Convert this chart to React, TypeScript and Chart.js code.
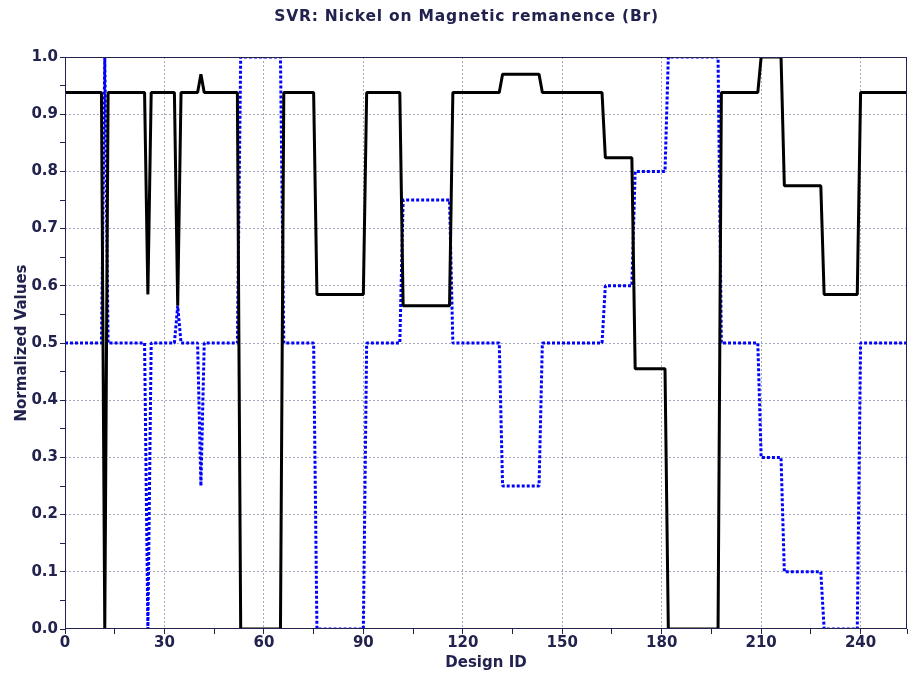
import React, { useEffect, useRef } from 'react';
import { Chart, registerables } from 'chart.js';

Chart.register(...registerables);

const TITLE = 'SVR: Nickel on Magnetic remanence (Br)';
const X_TITLE = 'Design ID';
const Y_TITLE = 'Normalized Values';

// Black solid series: vertices (Design ID, value)
const blackIds = [0, 11, 12, 13, 24, 25, 26, 33, 34, 35, 40, 41, 42, 52, 53, 65, 66, 75, 76, 90, 91, 101, 102, 116, 117, 131, 132, 143, 144, 162, 163, 171, 172, 181, 182, 197, 198, 209, 210, 216, 217, 228, 229, 239, 240, 254];
const blackValues = [0.938, 0.938, 0, 0.938, 0.938, 0.585, 0.938, 0.938, 0.565, 0.938, 0.938, 0.97, 0.938, 0.938, 0, 0, 0.938, 0.938, 0.585, 0.585, 0.938, 0.938, 0.565, 0.565, 0.938, 0.938, 0.97, 0.97, 0.938, 0.938, 0.824, 0.824, 0.455, 0.455, 0, 0, 0.938, 0.938, 1.0, 1.0, 0.775, 0.775, 0.585, 0.585, 0.938, 0.938];

// Blue dotted series: vertices (Design ID, value)
const blueIds = [0, 11, 12, 13, 24, 25, 26, 33, 34, 35, 40, 41, 42, 52, 53, 65, 66, 75, 76, 90, 91, 101, 102, 116, 117, 131, 132, 143, 144, 162, 163, 171, 172, 181, 182, 197, 198, 209, 210, 216, 217, 228, 229, 239, 240, 254];
const blueValues = [0.5, 0.5, 1.0, 0.5, 0.5, 0, 0.5, 0.5, 0.565, 0.5, 0.5, 0.25, 0.5, 0.5, 1.0, 1.0, 0.5, 0.5, 0, 0, 0.5, 0.5, 0.75, 0.75, 0.5, 0.5, 0.25, 0.25, 0.5, 0.5, 0.6, 0.6, 0.8, 0.8, 1.0, 1.0, 0.5, 0.5, 0.3, 0.3, 0.1, 0.1, 0, 0, 0.5, 0.5];

const X_MIN = 0;
const X_MAX = 254;
const X_MINOR_STEP = 15;
const X_MAJOR_STEP = 30;
const Y_MIN = 0;
const Y_MAX = 1;
const Y_MINOR_STEP = 0.05;

const NAVY = '#22224f';
const GRID = 'rgba(120,120,150,0.65)';

const frameBox = {
  id: 'frameBox',
  afterDraw(chart: any) {
    const { ctx, chartArea } = chart;
    ctx.save();
    ctx.strokeStyle = NAVY;
    ctx.lineWidth = 1;
    ctx.strokeRect(
      Math.round(chartArea.left) + 0.5,
      Math.round(chartArea.top) + 0.5,
      Math.round(chartArea.right - chartArea.left) - 1,
      Math.round(chartArea.bottom - chartArea.top) - 1
    );
    ctx.restore();
  },
};

// Title drawn with a little letter spacing to match the original's wide lettering
const spacedTitle = {
  id: 'spacedTitle',
  afterDraw(chart: any) {
    const { ctx, width } = chart;
    ctx.save();
    ctx.font = 'bold 15.5px "DejaVu Sans"';
    ctx.fillStyle = NAVY;
    ctx.textBaseline = 'middle';
    ctx.textAlign = 'left';
    try { (ctx as any).letterSpacing = '0.8px'; } catch (e) { /* ignore */ }
    const w = ctx.measureText(TITLE).width;
    const cx = width / 2 + 9;
    ctx.fillText(TITLE, cx - w / 2, 16.5);
    ctx.restore();
  },
};

export default function App() {
  const ref = useRef<HTMLCanvasElement | null>(null);

  useEffect(() => {
    if (!ref.current) return;
    const toPts = (xs: number[], ys: number[]) => xs.map((x, i) => ({ x, y: ys[i] }));
    const chart = new Chart(ref.current, {
      type: 'line',
      data: {
        datasets: [
          {
            label: 'Nickel',
            data: toPts(blackIds, blackValues),
            borderColor: '#000000',
            borderWidth: 3,
            pointRadius: 0,
            tension: 0,
            borderJoinStyle: 'bevel',
            fill: false,
          },
          {
            label: 'Magnetic remanence (Br)',
            data: toPts(blueIds, blueValues),
            borderColor: '#0000ff',
            borderWidth: 3,
            borderDash: [3, 2],
            pointRadius: 0,
            tension: 0,
            borderJoinStyle: 'bevel',
            fill: false,
          },
        ],
      },
      options: {
        animation: false,
        responsive: false,
        maintainAspectRatio: false,
        layout: { padding: { left: 0, right: 8, top: 57, bottom: 0 } },
        plugins: {
          legend: { display: false },
          tooltip: { enabled: false },
          title: { display: false },
        },
        scales: {
          x: {
            type: 'linear',
            min: X_MIN,
            max: X_MAX,
            afterFit: (s: any) => { s.height = 48; },
            ticks: {
              stepSize: X_MINOR_STEP,
              autoSkip: false,
              maxRotation: 0,
              padding: 0,
              color: NAVY,
              font: { family: 'DejaVu Sans', size: 15, weight: 'bold' },
              callback: (v: any) => (Math.round(Number(v)) % X_MAJOR_STEP === 0 ? String(Math.round(Number(v))) : ''),
            },
            grid: {
              color: (c: any) => (c.tick && Math.round(c.tick.value) % X_MAJOR_STEP === 0 && c.tick.value > X_MIN ? GRID : 'rgba(0,0,0,0)'),
              tickColor: NAVY,
              tickLength: 5,
              lineWidth: 1,
            },
            border: { display: false, dash: [2, 2] },
            title: {
              display: true,
              text: X_TITLE,
              color: NAVY,
              font: { family: 'DejaVu Sans', size: 15, weight: 'bold', lineHeight: 1.2 },
              padding: { top: 0, bottom: 5 },
            },
          },
          y: {
            type: 'linear',
            min: Y_MIN,
            max: Y_MAX,
            afterFit: (s: any) => { s.width = 65; },
            ticks: {
              stepSize: Y_MINOR_STEP,
              autoSkip: false,
              padding: 2,
              color: NAVY,
              font: { family: 'DejaVu Sans', size: 15, weight: 'bold' },
              callback: (v: any) => (Math.round(Number(v) * 100) % 10 === 0 ? Number(v).toFixed(1) : ''),
            },
            grid: {
              color: (c: any) => (c.tick && Math.round(c.tick.value * 100) % 10 === 0 && c.tick.value > Y_MIN && c.tick.value < Y_MAX ? GRID : 'rgba(0,0,0,0)'),
              tickColor: NAVY,
              tickLength: 5,
              lineWidth: 1,
            },
            border: { display: false, dash: [2, 2] },
            title: {
              display: true,
              text: Y_TITLE,
              color: NAVY,
              font: { family: 'DejaVu Sans', size: 15, weight: 'bold', lineHeight: 1.2 },
              padding: { top: 13, bottom: 0 },
            },
          },
        },
      },
      plugins: [frameBox, spacedTitle],
    } as any);
    return () => chart.destroy();
  }, []);

  return (
    <div style={{ position: 'fixed', left: 0, top: 0, width: 915, height: 677, background: '#ffffff' }}>
      <canvas ref={ref} width={915} height={677} style={{ display: 'block', width: 915, height: 677 }} />
    </div>
  );
}
